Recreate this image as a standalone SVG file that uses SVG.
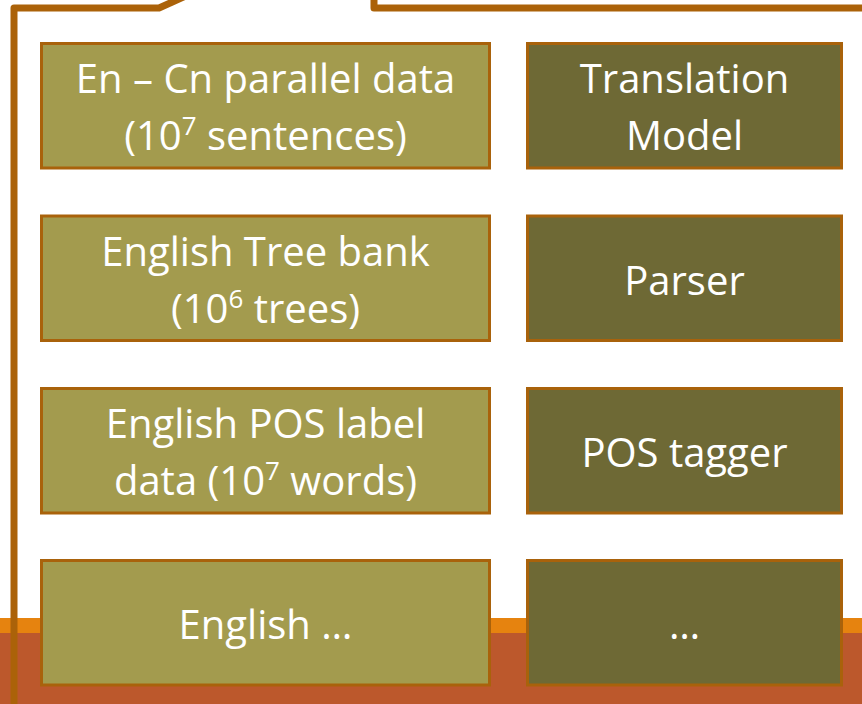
<svg xmlns="http://www.w3.org/2000/svg" width="862" height="704" viewBox="0 0 862 704">
  <style>
    .data rect { fill: #A39B4E; stroke: #A9620B; stroke-width: 3; }
    .tool rect { fill: #6E6935; stroke: #A9620B; stroke-width: 3; }
    text { font-family: "Open Sans", "Liberation Sans", sans-serif; font-size: 40px; fill: #FFFFFF; text-anchor: middle; }
    .sup { font-size: 26px; }
    .frame { fill: none; stroke: #AB6209; stroke-width: 7; stroke-linejoin: round; }
  </style>

  <!-- background -->
  <rect x="0" y="0" width="862" height="704" fill="#FFFFFF"/>
  <rect x="0" y="618" width="862" height="16" fill="#E6830F"/>
  <rect x="0" y="633" width="862" height="71" fill="#BC582C"/>

  <!-- frame lines -->
  <g id="connectors">
    <path class="frame" d="M14,710 L14,8 L159,8 L199,-10"/>
    <path class="frame" d="M374,-10 L374,8 L870,8"/>
  </g>

  <!-- data sources (left column) -->
  <g id="parallel-data" class="data">
    <rect x="41.5" y="43.5" width="448" height="124.5"/>
    <text x="265.5" y="93">En – Cn parallel data</text>
    <text x="265.5" y="150">(10<tspan class="sup" dy="-15">7</tspan><tspan dy="15"> sentences)</tspan></text>
  </g>
  <g id="tree-bank" class="data">
    <rect x="41.5" y="216" width="448" height="124.5"/>
    <text x="265.5" y="265.5">English Tree bank</text>
    <text x="265.5" y="322.5">(10<tspan class="sup" dy="-15">6</tspan><tspan dy="15"> trees)</tspan></text>
  </g>
  <g id="pos-data" class="data">
    <rect x="41.5" y="388.5" width="448" height="124.5"/>
    <text x="265.5" y="438">English POS label</text>
    <text x="265.5" y="495">data (10<tspan class="sup" dy="-15">7</tspan><tspan dy="15"> words)</tspan></text>
  </g>
  <g id="english-more" class="data">
    <rect x="41.5" y="560.5" width="448" height="124.5"/>
    <text x="265.5" y="639">English …</text>
  </g>

  <!-- models (right column) -->
  <g id="translation-model" class="tool">
    <rect x="527.5" y="43.5" width="314" height="124.5"/>
    <text x="684.5" y="93">Translation</text>
    <text x="684.5" y="150">Model</text>
  </g>
  <g id="parser" class="tool">
    <rect x="527.5" y="216" width="314" height="124.5"/>
    <text x="684.5" y="295">Parser</text>
  </g>
  <g id="pos-tagger" class="tool">
    <rect x="527.5" y="388.5" width="314" height="124.5"/>
    <text x="684.5" y="467">POS tagger</text>
  </g>
  <g id="model-more" class="tool">
    <rect x="527.5" y="560.5" width="314" height="124.5"/>
    <text x="684.5" y="639">…</text>
  </g>
</svg>
